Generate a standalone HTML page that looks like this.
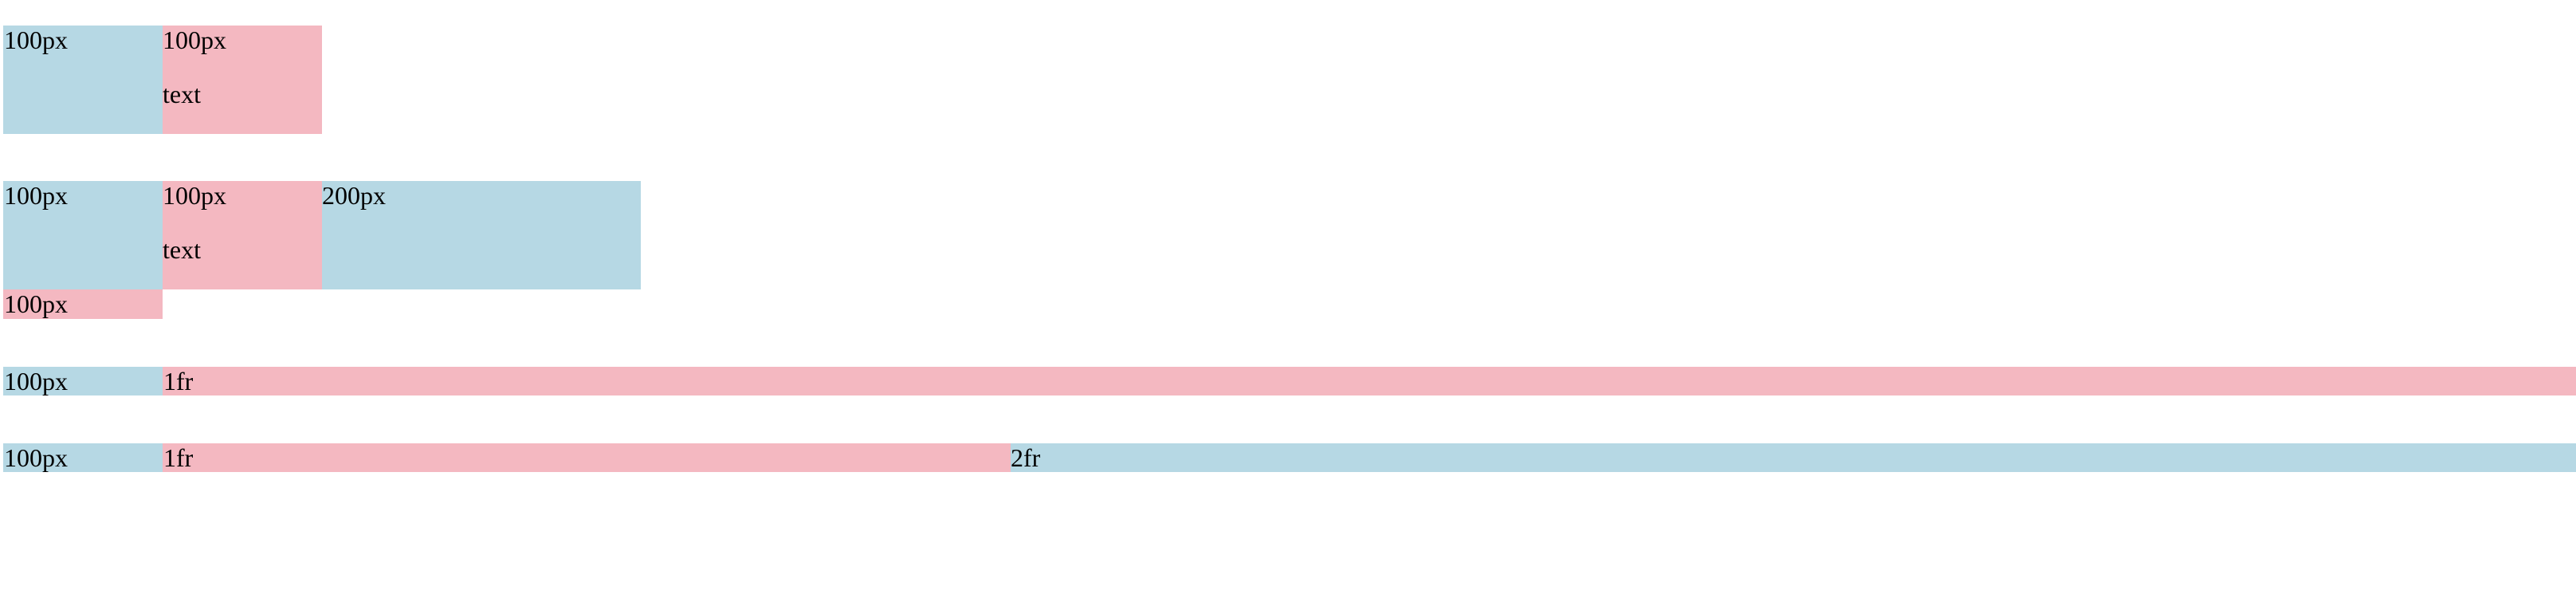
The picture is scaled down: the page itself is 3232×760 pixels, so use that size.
<!DOCTYPE html>
<html><head><meta charset="utf-8"><style>
html,body{margin:0;padding:0;background:#fff;width:3232px;height:760px;overflow:hidden}
.c{position:absolute;font-family:"Liberation Serif",serif;font-size:32px;line-height:36px;color:#000;box-sizing:border-box;padding-left:1px}
.b{background:#b6d8e4}.p{background:#f4b8c1}
.t{position:absolute;left:0}
</style></head><body>
<div class="c b" style="left:4px;top:32px;width:200px;height:136px">100px</div>
<div class="c p" style="left:204px;top:32px;width:200px;height:136px;padding-left:0">100px<span class="t" style="top:68px">text</span></div>

<div class="c b" style="left:4px;top:227px;width:200px;height:136px">100px</div>
<div class="c p" style="left:204px;top:227px;width:200px;height:136px;padding-left:0">100px<span class="t" style="top:68px">text</span></div>
<div class="c b" style="left:404px;top:227px;width:400px;height:136px;padding-left:0">200px</div>
<div class="c p" style="left:4px;top:363px;width:200px;height:37px">100px</div>

<div class="c b" style="left:4px;top:460px;width:200px;height:36px">100px</div>
<div class="c p" style="left:204px;top:460px;width:3028px;height:36px">1fr</div>

<div class="c b" style="left:4px;top:556px;width:200px;height:36px">100px</div>
<div class="c p" style="left:204px;top:556px;width:1064px;height:36px">1fr</div>
<div class="c b" style="left:1268px;top:556px;width:1964px;height:36px;padding-left:0">2fr</div>
</body></html>
